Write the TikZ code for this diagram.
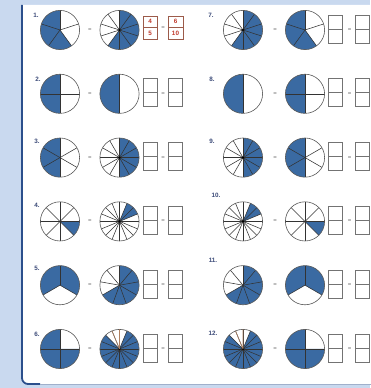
\documentclass[tikz,border=0pt]{standalone}
\usepackage{fontspec}
\setmainfont{Liberation Sans}
\definecolor{bgblue}{HTML}{C9D9EF}
\definecolor{frameblue}{HTML}{2B4F8C}
\definecolor{piefillc}{HTML}{3A6AA2}
\definecolor{labc}{HTML}{3B4A78}
\definecolor{ansred}{HTML}{C0392B}
\definecolor{ansbox}{HTML}{9C5B4A}
\definecolor{tanline}{HTML}{B08060}
\tikzset{
  piefill/.style={fill=piefillc},
  pieline/.style={draw=black!80, line width=0.55pt},
  pieedge/.style={draw=black!65, line width=0.6pt},
  lab/.style={font=\fontsize{6.3}{7}\selectfont\bfseries, text=labc, inner sep=0pt},
  eqs/.style={font=\fontsize{6}{6}\selectfont, text=black!60, inner sep=0pt},
  fbox/.style={draw=black!55, line width=0.65pt},
  abox/.style={draw=ansbox, line width=0.65pt},
  ansnum/.style={font=\fontsize{6.3}{6.3}\selectfont\bfseries, text=ansred, inner sep=0pt}
}
\def\R{19.6pt}
\newcommand\pieD[5]{%
  \begin{scope}[shift={(#1,#2)}]
    \fill[piefill] (0,0) -- (#4:\R) arc[start angle=#4, end angle=#5, radius=\R] -- cycle;
    \foreach \k in {1,...,#3} \draw[pieline] (0,0) -- ({90+360*\k/#3}:\R);
    \draw[pieedge] (0,0) circle[radius=\R];
    \ifnum#3>9 \fill[black] (0,0) circle[radius=1.2pt];\fi
  \end{scope}}
\newcommand\fboxD[2]{%
  \draw[fbox] (#1,#2-13) rectangle (#1+14,#2+15);
  \draw[fbox] (#1,#2+1) -- (#1+14,#2+1);}
\begin{document}
\begin{tikzpicture}[x=1pt,y=1pt]
\useasboundingbox (0,0) rectangle (370,388);
% background and panel
\fill[bgblue] (0,0) rectangle (370,388);
\fill[white] (22,383) -- (22,10) arc[start angle=180, end angle=270, radius=6] -- (372,4) -- (372,383) -- cycle;
\draw[frameblue, line width=1.8pt] (22,383) -- (22,10) arc[start angle=180, end angle=270, radius=6] -- (40,4);
\draw[frameblue!45, line width=0.8pt] (40,4) -- (372,4);
% labels
\node[lab] (l1) at (36,373) {1.};
\node[lab] (l2) at (38,309) {2.};
\node[lab] (l3) at (37,247) {3.};
\node[lab] (l4) at (37,183) {4.};
\node[lab] (l5) at (37,120) {5.};
\node[lab] (l6) at (37,54) {6.};
\node[lab] (l7) at (211,373) {7.};
\node[lab] (l8) at (212,309) {8.};
\node[lab] (l9) at (212,247) {9.};
\node[lab] (l10) at (216,193) {10.};
\node[lab] (l11) at (213,128) {11.};
\node[lab] (l12) at (213,55) {12.};
% pies left column
\pieD{60}{358}{5}{90}{306}
\pieD{119.5}{358}{10}{234}{450}
\pieD{60}{294.2}{4}{90}{270}
\pieD{119.5}{294.2}{2}{90}{270}
\pieD{60}{230.4}{6}{90}{270}
\pieD{119.5}{230.4}{12}{-90}{90}
\pieD{60}{166.6}{8}{-45}{0}
\pieD{119.5}{166.6}{16}{22.5}{67.5}
\pieD{60}{102.8}{3}{-30}{210}
\pieD{119.5}{102.8}{9}{210}{450}
\pieD{60}{39}{4}{90}{360}
\pieD{119.5}{39}{16}{135}{427.5}
% pies right column
\pieD{243}{358}{10}{234}{450}
\pieD{305}{358}{5}{90}{306}
\pieD{243}{294.2}{2}{90}{270}
\pieD{305}{294.2}{4}{90}{270}
\pieD{243}{230.4}{12}{-90}{90}
\pieD{305}{230.4}{6}{90}{270}
\pieD{243}{166.6}{16}{22.5}{67.5}
\pieD{305}{166.6}{8}{-45}{0}
\pieD{243}{102.8}{9}{210}{450}
\pieD{305}{102.8}{3}{-30}{210}
\pieD{243}{39}{16}{135}{427.5}
\pieD{305}{39}{4}{90}{360}
% tan lines in the white part of the sixteenths
\draw[tanline, line width=0.55pt] (119.5,39) -- ++(90:\R) (119.5,39) -- ++(112.5:\R);
\draw[tanline, line width=0.55pt] (243,39) -- ++(90:\R) (243,39) -- ++(112.5:\R);
% equals signs
\foreach \yy [count=\i] in {358,294.2,230.4,166.6,102.8,39}{
  \node[eqs] (eqa\i) at (90,\yy) {=};
  \node[eqs] (eqc\i) at (275,\yy) {=};
  \node[eqs] (eqd\i) at (349.5,\yy) {=};
}
\foreach \yy [count=\i] in {294.2,230.4,166.6,102.8,39}{
  \node[eqs] (eqb\i) at (163,\yy) {=};
}
\node[eqs] (eqb0) at (163,360) {=};
% answer boxes row 1 (left)
\draw[abox] (143,349) rectangle (157,372);
\draw[abox] (143,360.3) -- (157,360.3);
\draw[abox] (168,349) rectangle (183,372);
\draw[abox] (168,360.3) -- (183,360.3);
\node[ansnum] (n4) at (150,366.2) {4};
\node[ansnum] (n5) at (150,354.6) {5};
\node[ansnum] (n6) at (175.5,366.2) {6};
\node[ansnum] (n10) at (175.5,354.6) {10};
% empty boxes
\foreach \yy in {294.2,230.4,166.6,102.8,39}{
  \fboxD{143}{\yy}
  \fboxD{168}{\yy}
}
\foreach \yy in {358,294.2,230.4,166.6,102.8,39}{
  \fboxD{328.5}{\yy}
  \fboxD{355}{\yy}
}
\end{tikzpicture}
\end{document}
